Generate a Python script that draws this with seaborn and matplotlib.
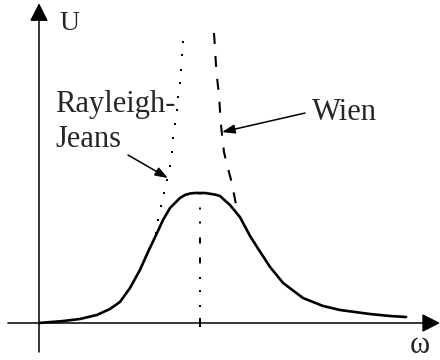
import matplotlib
matplotlib.use("Agg")
import matplotlib.pyplot as plt
import seaborn as sns

sns.set_theme(style="white")
plt.rcParams["font.family"] = ["Liberation Serif", "DejaVu Serif"]
plt.rcParams["lines.scale_dashes"] = False

# Spectral energy density U(omega), in units of the peak (omega_peak = 1, U_peak = 1)
omega = [0.000, 0.149, 0.255, 0.360, 0.441, 0.503, 0.565, 0.627, 0.677, 0.733,
         0.770, 0.814, 0.876, 0.907, 0.938, 0.969, 1.000, 1.031, 1.062, 1.093,
         1.124, 1.186, 1.248, 1.311, 1.354, 1.435, 1.516, 1.640, 1.764, 1.870,
         2.056, 2.180, 2.280]
U = [0.000, 0.015, 0.031, 0.062, 0.108, 0.162, 0.269, 0.408, 0.546, 0.692,
     0.792, 0.885, 0.962, 0.985, 0.996, 1.000, 1.000, 1.000, 0.994, 0.988,
     0.977, 0.908, 0.815, 0.669, 0.585, 0.431, 0.308, 0.192, 0.131, 0.100,
     0.069, 0.054, 0.046]

# Rayleigh-Jeans law (low-frequency limit)
rj_omega = [0.727, 0.739, 0.758, 0.776, 0.795, 0.814, 0.826, 0.832, 0.845,
            0.857, 0.863, 0.876, 0.882, 0.888, 0.894]
rj_U = [0.692, 0.792, 0.900, 1.000, 1.100, 1.208, 1.315, 1.423, 1.531,
        1.638, 1.738, 1.846, 1.946, 2.062, 2.162]

# Wien law (high-frequency limit)
wien_omega = [1.087, 1.093, 1.099, 1.106, 1.118, 1.124, 1.130, 1.137, 1.149,
              1.168, 1.193, 1.211, 1.224, 1.230]
wien_U = [2.231, 2.115, 1.992, 1.885, 1.754, 1.638, 1.531, 1.446, 1.315,
          1.215, 1.100, 0.992, 0.908, 0.831]

# Position of the maximum
peak_omega = [1.0, 1.0]
peak_U = [1.0, -0.031]

axis_label_x = "ω"
axis_label_y = "U"
rj_label = ["Rayleigh-", "Jeans"]
wien_label = "Wien"

PX = 0.72  # points per pixel at 100 dpi

fig = plt.figure(figsize=(4.4, 3.6), dpi=100)
ax = fig.add_axes([0, 0, 1, 1])
ax.set_xlim(-0.2422, 2.4907)
ax.set_ylim(-0.2846, 2.4846)
ax.set_axis_off()

# coordinate axes with arrowheads
axis_style = dict(arrowstyle="-|>,head_length=0.55,head_width=0.28",
                  mutation_scale=20, lw=1.1, color="black",
                  shrinkA=0, shrinkB=0)
ax.annotate("", xy=(0, 2.46), xytext=(0, -0.223), arrowprops=axis_style)
ax.annotate("", xy=(2.491, 0), xytext=(-0.193, 0), arrowprops=axis_style)

# Planck curve
sns.lineplot(x=omega, y=U, ax=ax, color="black", lw=1.9,
             estimator=None, sort=False)
ax.lines[-1].set_solid_joinstyle("round")
ax.lines[-1].set_solid_capstyle("round")

# vertical marker at the maximum
sns.lineplot(x=peak_omega, y=peak_U, ax=ax, color="black", lw=1.4,
             estimator=None, sort=False)
ax.lines[-1].set_linestyle((0, [v * PX for v in
                            (1.5, 13, 2, 12, 2, 14, 6, 14, 6, 13.5,
                             2, 11, 2, 13, 2, 11, 10, 200)]))
ax.lines[-1].set_dash_capstyle("butt")

# Wien approximation
sns.lineplot(x=wien_omega, y=wien_U, ax=ax, color="black", lw=1.5,
             estimator=None, sort=False)
ax.lines[-1].set_linestyle((0, [11 * PX, 12 * PX]))
ax.lines[-1].set_dash_capstyle("butt")

# Rayleigh-Jeans approximation
sns.scatterplot(x=rj_omega, y=rj_U, ax=ax, color="black", s=3.2,
                marker="s", linewidth=0)

# labels
fs = 22
ax.text(0.099, 1.623, rj_label[0], fontsize=fs, ha="left", va="baseline")
ax.text(0.099, 1.354, rj_label[1], fontsize=fs, ha="left", va="baseline")
ax.text(1.696, 1.562, wien_label, fontsize=fs, ha="left", va="baseline")
ax.text(0.130, 2.254, axis_label_y, fontsize=20, ha="left", va="baseline")
ax.text(2.305, -0.281, axis_label_x, fontsize=22, ha="left", va="bottom")

# pointer arrows to the approximations
ptr = dict(arrowstyle="-|>,head_length=0.7,head_width=0.25",
           mutation_scale=11, lw=1.1, color="black", shrinkA=0, shrinkB=0)
ax.annotate("", xy=(0.801, 1.115), xytext=(0.553, 1.292), arrowprops=ptr)
ax.annotate("", xy=(1.137, 1.469), xytext=(1.652, 1.615), arrowprops=ptr)

fig.savefig("out.png", dpi=100)
